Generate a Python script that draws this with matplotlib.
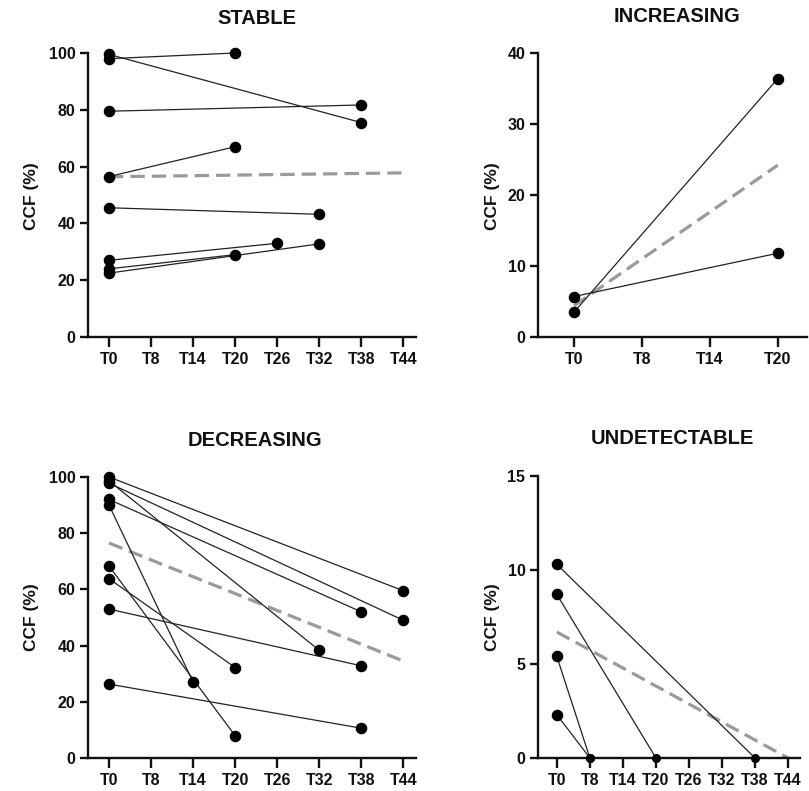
import matplotlib
matplotlib.use("Agg")
import matplotlib.pyplot as plt

plt.rcParams['font.family'] = ['Liberation Sans', 'DejaVu Sans']
plt.rcParams['font.weight'] = 'bold'

# ---------------- data ----------------
timepoints = ["T0", "T8", "T14", "T20", "T26", "T32", "T38", "T44"]
timepoints_increasing = ["T0", "T8", "T14", "T20"]

# STABLE
stable_start = [98.0, 99.5, 79.5, 56.5, 45.5, 27.0, 24.0, 22.5]
stable_end = [100.0, 75.5, 81.7, 67.0, 43.2, 33.0, 29.0, 32.8]
stable_end_time = ["T20", "T38", "T38", "T20", "T32", "T26", "T20", "T32"]
stable_trend = [56.4, 57.8]

# INCREASING
increasing_start = [3.5, 5.7]
increasing_end = [36.4, 11.8]
increasing_end_time = ["T20", "T20"]
increasing_trend = [4.4, 24.2]

# DECREASING
decreasing_start = [100.0, 97.8, 98.6, 92.0, 90.0, 68.3, 63.8, 53.0, 26.3]
decreasing_end = [59.5, 49.0, 38.3, 52.0, 27.0, 7.9, 32.2, 32.8, 10.6]
decreasing_end_time = ["T44", "T44", "T32", "T38", "T14", "T20", "T20", "T38", "T38"]
decreasing_trend = [76.5, 34.5]

# UNDETECTABLE
undetectable_start = [10.3, 8.7, 5.4, 2.3]
undetectable_end = [0.0, 0.0, 0.0, 0.0]
undetectable_end_time = ["T38", "T20", "T8", "T8"]
undetectable_trend = [6.7, 0.0]

W, H = 809, 791
fig = plt.figure(figsize=(W / 100, H / 100), dpi=100)


def px_axes(left, right, top, bottom):
    return fig.add_axes([left / W, 1 - bottom / H, (right - left) / W, (bottom - top) / H])


def style(ax, labels, xlim, ylim, yticks):
    ax.set_xticks(range(len(labels)))
    ax.set_xticklabels(labels)
    ax.set_xlim(*xlim)
    ax.set_ylim(*ylim)
    ax.set_yticks(yticks)
    for s in ["top", "right"]:
        ax.spines[s].set_visible(False)
    for s in ["left", "bottom"]:
        ax.spines[s].set_linewidth(1.7)
        ax.spines[s].set_color("#111111")
    ax.tick_params(axis="x", width=1.7, length=7, labelsize=11.5, pad=4, color="#111111")
    ax.tick_params(axis="y", width=1.7, length=6, labelsize=11.5, pad=3, color="#111111")
    for lab in ax.get_xticklabels() + ax.get_yticklabels():
        lab.set_fontweight("bold")
        lab.set_color("#111111")


def draw(ax, labels, starts, ends, end_times, trend, trend_end_label, zero_small=False):
    idx = {t: i for i, t in enumerate(labels)}
    for s, e, t in zip(starts, ends, end_times):
        ax.plot([0, idx[t]], [s, e], color="#222222", lw=0.9, zorder=3, clip_on=False)
    for s in starts:
        ax.plot(0, s, "o", color="black", ms=7.3, zorder=4, clip_on=False)
    for e, t in zip(ends, end_times):
        ms = 5.5 if (zero_small and e == 0) else 7.3
        ax.plot(idx[t], e, "o", color="black", ms=ms, zorder=4, clip_on=False)
    ax.plot([0, idx[trend_end_label]], trend, color="#9a9a9a", lw=2.3,
            ls=(0, (4.5, 2.2)), zorder=2, clip_on=False)


# STABLE
ax1 = px_axes(88, 416, 53, 337)
draw(ax1, timepoints, stable_start, stable_end, stable_end_time, stable_trend, "T44")
style(ax1, timepoints, (-0.5, 7.3), (0, 100), [0, 20, 40, 60, 80, 100])

# INCREASING
ax2 = px_axes(538, 807, 53, 337)
draw(ax2, timepoints_increasing, increasing_start, increasing_end, increasing_end_time,
     increasing_trend, "T20")
style(ax2, timepoints_increasing, (-0.53, 3.43), (0, 40), [0, 10, 20, 30, 40])

# DECREASING
ax3 = px_axes(88, 416, 477, 758)
draw(ax3, timepoints, decreasing_start, decreasing_end, decreasing_end_time,
     decreasing_trend, "T44")
style(ax3, timepoints, (-0.5, 7.3), (0, 100), [0, 20, 40, 60, 80, 100])

# UNDETECTABLE
ax4 = px_axes(538, 800, 476, 758)
draw(ax4, timepoints, undetectable_start, undetectable_end, undetectable_end_time,
     undetectable_trend, "T44", zero_small=True)
style(ax4, timepoints, (-0.57, 7.36), (0, 15), [0, 5, 10, 15])

# titles
for txt, x, y in [("STABLE", 257, 18), ("INCREASING", 677, 17),
                  ("DECREASING", 255, 441), ("UNDETECTABLE", 672, 439)]:
    fig.text(x / W, 1 - y / H, txt, ha="center", va="center", fontsize=14.5,
             fontweight="bold", color="#111111")

# y labels
for x, y in [(32, 196), (492, 196), (32, 617), (492, 617)]:
    fig.text(x / W, 1 - y / H, "CCF (%)", ha="center", va="center", rotation=90,
             fontsize=12.5, fontweight="bold", color="#111111")

fig.savefig("out.png", dpi=100)
